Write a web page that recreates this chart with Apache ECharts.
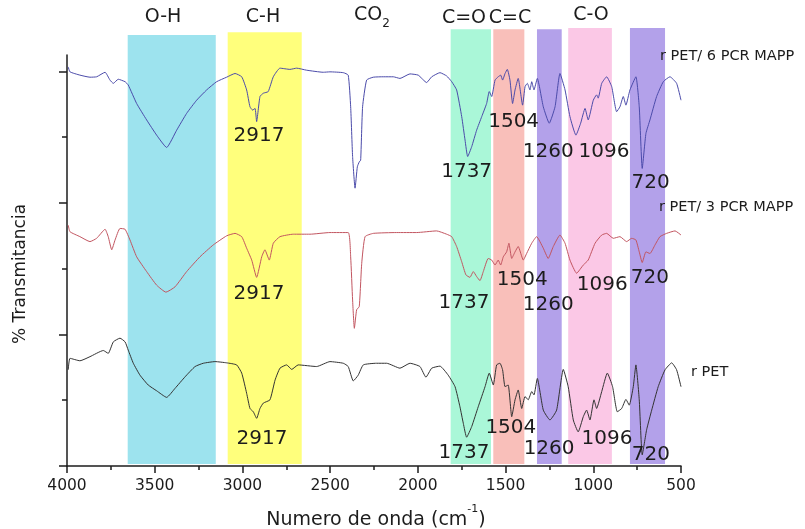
<!DOCTYPE html>
<html><head><meta charset="utf-8">
<script src="https://cdn.jsdelivr.net/npm/echarts@6/dist/echarts.min.js"></script>
<style>html,body{margin:0;padding:0;background:#fff}#c{width:805px;height:529px}</style>
</head><body><div id="c"></div>
<script>
// ---------- data ----------
const seriesNames = ['r PET/ 6 PCR MAPP', 'r PET/ 3 PCR MAPP', 'r PET'];

const wnBlue = [3993,3983,3926,3869,3831,3783,3755,3736,3708,3669,3651,3603,3546,3489,3432,3375,3318,3261,3204,3147,3090,3042,3004,2976,2957,2942,2928,2919,2900,2881,2853,2824,2786,2729,2691,2634,2539,2501,2425,2397,2383,2372,2358,2345,2334,2326,2315,2292,2254,2197,2140,2102,2045,1998,1950,1921,1874,1836,1807,1779,1750,1731,1716,1693,1665,1636,1608,1593,1579,1560,1542,1528,1517,1503,1490,1475,1460,1446,1428,1403,1389,1376,1361,1351,1338,1319,1285,1251,1218,1190,1161,1133,1099,1072,1047,1029,1000,981,972,952,924,895,867,848,829,814,791,757,738,721,700,677,639,601,563,525,500];
const tBlue = [97.1,95.9,95.1,94.6,94.7,95.8,93.9,93.1,94.1,93.5,92.7,88.2,84.2,80.5,77.5,81.7,85.8,89.0,91.5,93.5,94.6,95.5,94.7,91.5,87.4,86.6,87.0,83.8,89.9,90.7,91.1,94.7,96.8,96.5,96.8,96.3,95.8,95.9,95.7,95.1,87.4,75.3,67.6,72.8,74.0,74.4,87.4,93.9,94.6,94.7,94.7,94.3,95.4,95.1,93.3,94.7,95.7,94.9,93.5,91.5,85.0,79.3,75.3,77.7,81.7,85.0,88.2,91.1,89.9,93.9,94.7,95.1,93.9,95.5,96.5,93.9,88.2,91.5,94.3,87.8,92.3,93.1,91.5,93.5,91.5,94.3,87.4,83.4,87.4,95.5,91.5,85.0,80.5,83.4,87.0,84.2,89.0,90.3,89.5,93.1,94.7,92.3,86.2,87.4,89.9,87.8,91.5,94.7,87.4,72.4,80.9,84.2,89.9,93.5,94.7,93.1,89.0];

const wnRed = [3993,3983,3926,3869,3831,3783,3765,3745,3726,3698,3669,3641,3603,3546,3489,3436,3384,3318,3242,3166,3090,3042,3004,2976,2947,2919,2890,2872,2847,2824,2786,2710,2615,2501,2397,2383,2372,2362,2349,2334,2320,2301,2254,2121,2007,1893,1836,1807,1779,1750,1726,1703,1684,1665,1646,1627,1599,1579,1560,1542,1528,1513,1494,1481,1465,1446,1428,1399,1380,1351,1323,1285,1257,1228,1190,1161,1133,1095,1057,1029,990,952,924,886,848,810,781,757,738,721,700,677,648,620,582,534,500];
const tRed = [58.6,57.0,55.8,54.6,55.4,57.6,55.8,52.6,55.0,57.8,57.6,55.0,50.9,47.3,44.0,42.3,43.6,47.3,50.9,53.8,56.0,56.6,55.8,53.0,50.1,45.9,50.9,52.6,50.1,54.2,55.8,56.4,56.4,56.8,56.8,50.9,40.4,33.5,38.0,38.8,49.3,55.8,56.6,56.8,56.8,57.2,56.4,55.8,53.4,49.7,46.5,45.9,47.3,46.1,45.1,47.3,50.5,50.1,48.9,50.1,48.9,50.9,52.1,54.2,50.5,52.1,53.4,50.1,51.7,54.2,55.8,53.0,50.5,53.4,56.2,54.2,50.1,46.9,48.9,50.1,54.2,56.2,56.6,55.4,55.8,54.6,55.4,55.0,52.1,49.5,52.1,51.7,53.8,55.8,56.6,57.2,56.2];

const wnBlack = [3993,3983,3926,3869,3793,3765,3736,3698,3669,3651,3622,3584,3537,3489,3432,3384,3327,3270,3223,3156,3090,3033,3004,2976,2957,2938,2919,2900,2881,2843,2814,2786,2748,2719,2682,2577,2501,2425,2397,2368,2340,2311,2235,2178,2102,2045,1988,1954,1921,1874,1827,1788,1760,1741,1722,1693,1656,1617,1593,1570,1551,1532,1517,1503,1485,1465,1446,1428,1408,1389,1371,1351,1338,1319,1285,1247,1209,1171,1143,1114,1086,1057,1038,1019,996,981,952,920,890,863,838,814,795,772,757,738,721,696,667,630,591,553,525,500];
const tBlack = [23.4,26.2,25.6,26.6,28.1,27.4,30.2,31.1,30.2,28.2,25.0,22.1,19.7,18.3,16.7,18.9,21.7,24.2,25.0,25.4,25.1,24.6,22.6,17.7,14.0,13.2,11.6,14.0,15.3,16.1,20.9,23.8,24.6,23.5,24.6,24.2,25.4,25.0,24.2,20.7,22.1,24.6,25.0,25.0,23.8,25.0,24.2,21.6,23.8,24.3,22.1,19.3,14.4,10.4,7.0,9.6,14.4,19.3,22.6,19.7,24.6,25.0,23.4,19.3,19.7,12.0,16.1,18.5,14.0,16.9,16.1,18.1,17.3,21.3,13.6,11.2,13.6,23.5,19.3,11.2,8.3,12.0,13.6,11.2,16.1,14.0,18.1,22.6,19.3,13.2,14.0,16.2,14.8,19.3,24.6,16.1,2.7,8.8,13.6,19.3,23.4,25.1,23.4,19.3];

// absorption bands (wavenumber ranges)
const bandNames = ['O-H', 'C-H', 'C=O', 'C=C', 'C-O (a)', 'C-O', 'C-O (b)'];
const bandFrom = [3654, 3084, 1813, 1570, 1321, 1143, 791];
const bandTo   = [3152, 2662, 1583, 1393, 1180, 894, 591];

// peak annotations: text, anchor wavenumber, anchor transmittance
const peakText = ['2917', '1737', '1504', '1260', '1096', '720'];
const peakWnBlue  = [2906, 1722, 1454, 1257, 939, 673];
const peakTBlue   = [80.3, 71.6, 83.8, 76.5, 76.5, 68.8];
const peakWnRed   = [2906, 1737, 1405, 1257, 949, 677];
const peakTRed    = [41.8, 39.7, 45.3, 39.3, 44.0, 45.9];
const peakWnBlack = [2889, 1737, 1470, 1252, 922, 672];
const peakTBlack  = [6.6, 3.1, 9.4, 4.1, 6.5, 2.7];

// ---------- styles ----------
const bandColors = ['#9de3ee', '#ffff7c', '#aaf7d8', '#f9bfba', '#b3a1ea', '#fbc8e6', '#b3a1ea'];
const bandTop = [98.4, 99.0, 99.7, 99.7, 99.7, 100, 100];
const lineColors = ['#4b4baa', '#c25560', '#333333'];
const FONT = 'DejaVu Sans';
const TXT = '#1c1c1c';

const zip = (a, b) => a.map((v, i) => [v, b[i]]);
const peaks = (wn, t) => peakText.map((s, i) => ({ name: s, coord: [wn[i], t[i]] }));

const chart = echarts.init(document.getElementById('c'), null, { renderer: 'canvas' });

function lineSeries(idx, wn, t, pw, pt) {
  return {
    name: seriesNames[idx], type: 'line', xAxisIndex: 0, yAxisIndex: 0, z: 3,
    data: zip(wn, t), showSymbol: false, symbol: 'none', smooth: 0.15,
    lineStyle: { color: lineColors[idx], width: 1 },
    markPoint: {
      silent: true, symbol: 'circle', symbolSize: 0, animation: false,
      label: { show: true, position: 'inside', formatter: p => p.name,
               color: TXT, fontSize: 20, fontFamily: FONT },
      data: peaks(pw, pt)
    }
  };
}

const txt = (x, y, text, size, align, extra) => Object.assign({
  type: 'text', x, y, z: 100,
  style: { text, fill: TXT, fontSize: size, fontFamily: FONT, align: align || 'center', verticalAlign: 'middle' }
}, extra || {});

const option = {
  animation: false,
  backgroundColor: '#ffffff',
  grid: [
    { left: 67, right: 124, top: 55, bottom: 63 },
    { left: 67, right: 124, top: 28, bottom: 65 }
  ],
  xAxis: [
    { gridIndex: 0, type: 'value', min: 500, max: 4000, interval: 500, inverse: true,
      splitLine: { show: false },
      axisLine: { lineStyle: { color: TXT, width: 1.5 } },
      axisTick: { length: 7, lineStyle: { color: TXT, width: 1.5 } },
      axisLabel: { color: TXT, fontSize: 15.5, fontFamily: FONT, margin: 12,
                   formatter: v => String(v) } },
    { gridIndex: 1, type: 'value', min: 500, max: 4000, inverse: true, show: false },
    { gridIndex: 0, type: 'value', min: 500, max: 4000, interval: 250, inverse: true, position: 'bottom',
      splitLine: { show: false }, axisLabel: { show: false },
      axisLine: { show: false },
      axisTick: { show: true, length: 4, lineStyle: { color: TXT, width: 1.5 } } }
  ],
  yAxis: [
    { gridIndex: 0, type: 'value', min: 0, max: 100, interval: 16, position: 'left',
      splitLine: { show: false }, axisLabel: { show: false },
      axisLine: { show: true, lineStyle: { color: TXT, width: 1.5 } },
      axisTick: { show: true, length: 8, customValues: [0, 32, 64, 96], lineStyle: { color: TXT, width: 1.5 } } },
    { gridIndex: 0, type: 'value', min: 0, max: 100, interval: 16, position: 'left',
      splitLine: { show: false }, axisLabel: { show: false },
      axisLine: { show: false },
      axisTick: { show: true, length: 5, customValues: [16, 48, 80], lineStyle: { color: TXT, width: 1.5 } } },
    { gridIndex: 1, type: 'value', min: 0, max: 100, show: false }
  ],
  series: [
    { name: 'bands', type: 'line', xAxisIndex: 1, yAxisIndex: 2, z: 1, data: [], silent: true,
      markArea: { silent: true, animation: false,
        data: bandFrom.map((f, i) => [
          { xAxis: f, yAxis: 0, itemStyle: { color: bandColors[i], opacity: 1 } },
          { xAxis: bandTo[i], yAxis: bandTop[i] }
        ]) } },
    lineSeries(0, wnBlue, tBlue, peakWnBlue, peakTBlue),
    lineSeries(1, wnRed, tRed, peakWnRed, peakTRed),
    lineSeries(2, wnBlack, tBlack, peakWnBlack, peakTBlack)
  ],
  graphic: [
    txt(163, 17, 'O-H', 19),
    txt(263, 17, 'C-H', 19),
    { type: 'text', x: 372, y: 18, z: 100, style: { text: '{a|CO}{b|2}', fill: TXT, align: 'center', verticalAlign: 'middle',
        rich: { a: { fontSize: 19, fontFamily: FONT, fill: TXT, verticalAlign: 'top', lineHeight: 24 },
                b: { fontSize: 12, fontFamily: FONT, fill: TXT, verticalAlign: 'bottom', lineHeight: 24 } } } },
    txt(464, 18, 'C=O', 19),
    txt(510, 18, 'C=C', 19),
    txt(591, 15, 'C-O', 19),
    txt(660, 56, seriesNames[0], 14.5, 'left'),
    txt(659, 207, seriesNames[1], 14.5, 'left'),
    txt(691, 372, seriesNames[2], 14.5, 'left'),
    txt(21, 274, '% Transmitancia', 17, 'center', { rotation: Math.PI / 2 }),
    { type: 'text', x: 376, y: 517, z: 100, style: { text: '{a|Numero de onda (cm}{s|-1}{a|)}', fill: TXT, align: 'center', verticalAlign: 'middle',
        rich: { a: { fontSize: 19, fontFamily: FONT, fill: TXT, verticalAlign: 'bottom', lineHeight: 26 },
                s: { fontSize: 11, fontFamily: FONT, fill: TXT, verticalAlign: 'top', lineHeight: 26 } } } }
  ]
};
chart.setOption(option);
</script></body></html>
